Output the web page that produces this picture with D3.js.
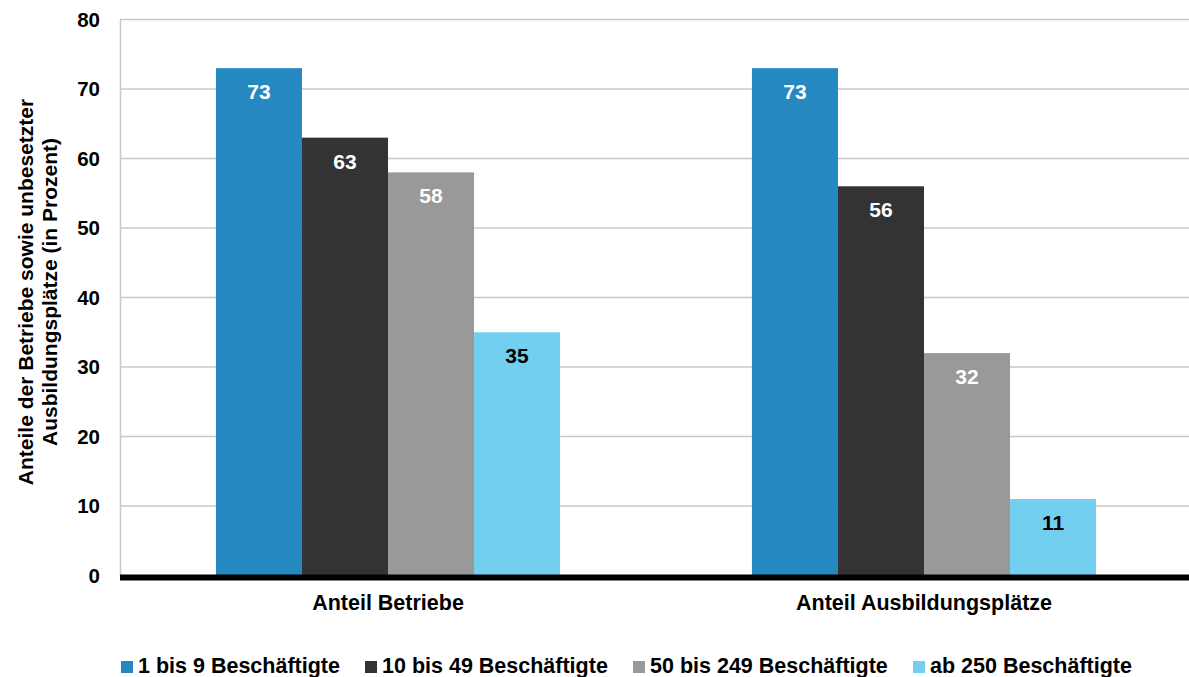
<!DOCTYPE html>
<html>
<head>
<meta charset="utf-8">
<script src="https://cdn.jsdelivr.net/npm/d3@7"></script>
<style>
  body { margin: 0; background: #fff; }
  svg { display: block; font-family: "Liberation Sans", Arial, sans-serif; font-weight: bold; }
</style>
</head>
<body>
<svg id="chart" width="1189" height="677"></svg>
<script>
// Kategorien und Werte
const categories = ["Anteil Betriebe", "Anteil Ausbildungsplätze"];
const seriesNames = ["1 bis 9 Beschäftigte", "10 bis 49 Beschäftigte", "50 bis 249 Beschäftigte", "ab 250 Beschäftigte"];
const valuesBetriebe = [73, 63, 58, 35];
const valuesAusbildungsplaetze = [73, 56, 32, 11];
const yTicks = [0, 10, 20, 30, 40, 50, 60, 70, 80];
const seriesColors = ["#2688c0", "#333333", "#999999", "#73cff0"];
const labelColors = ["#ffffff", "#ffffff", "#ffffff", "#000000"];

const rows = [valuesBetriebe, valuesAusbildungsplaetze];

const svg = d3.select("#chart");
const plotLeft = 120, plotRight = 1192, plotTop = 19.5, plotBottom = 575.5;

const x0 = d3.scaleBand().domain(categories).range([plotLeft, plotRight])
  .paddingInner(0.358).paddingOuter(0.179);
const x1 = d3.scaleBand().domain(seriesNames).range([0, x0.bandwidth()]);
const y = d3.scaleLinear().domain([0, 80]).range([plotBottom, plotTop]);

// Gitterlinien
svg.append("g").selectAll("line").data(yTicks.filter(t => t > 0)).join("line")
  .attr("x1", plotLeft).attr("x2", 1189)
  .attr("y1", d => y(d)).attr("y2", d => y(d))
  .attr("stroke", "#c8c8c8").attr("stroke-width", 1.5);

// Y-Achse
const yAxis = svg.append("g").attr("transform", `translate(${plotLeft},0)`)
  .call(d3.axisLeft(y).tickValues(yTicks).tickSize(0).tickPadding(20));
yAxis.select(".domain").attr("stroke", "#c8c8c8").attr("stroke-width", 1.5);
yAxis.selectAll("text").attr("font-size", 20.5).attr("font-weight", "bold")
  .attr("fill", "#000").attr("font-family", "Liberation Sans, Arial, sans-serif");

// Balken
const groups = svg.append("g").selectAll("g").data(categories).join("g")
  .attr("transform", d => `translate(${x0(d)},0)`);

groups.selectAll("rect").data((c, i) => rows[i].map((v, j) => ({ v, j })))
  .join("rect")
  .attr("x", d => x1(seriesNames[d.j]))
  .attr("width", x1.bandwidth())
  .attr("y", d => y(d.v))
  .attr("height", d => y(0) - y(d.v))
  .attr("fill", d => seriesColors[d.j]);

groups.selectAll("text").data((c, i) => rows[i].map((v, j) => ({ v, j })))
  .join("text")
  .attr("x", d => x1(seriesNames[d.j]) + x1.bandwidth() / 2)
  .attr("y", d => y(d.v) + 31)
  .attr("text-anchor", "middle")
  .attr("font-size", 21)
  .attr("fill", d => labelColors[d.j])
  .text(d => d.v);

// X-Achse (dicke Nulllinie)
svg.append("line").attr("x1", plotLeft).attr("x2", 1189)
  .attr("y1", y(0) + 2).attr("y2", y(0) + 2)
  .attr("stroke", "#000").attr("stroke-width", 6);

svg.append("g").selectAll("text").data(categories).join("text")
  .attr("x", d => x0(d) + x0.bandwidth() / 2)
  .attr("y", 610)
  .attr("text-anchor", "middle")
  .attr("font-size", 21.5)
  .text(d => d);

// Achsentitel
const title = svg.append("text")
  .attr("transform", "translate(0,292) rotate(-90)")
  .attr("text-anchor", "middle")
  .attr("font-size", 21);
title.append("tspan").attr("x", 0).attr("y", 33).text("Anteile der Betriebe sowie unbesetzter");
title.append("tspan").attr("x", 0).attr("y", 57).text("Ausbildungsplätze (in Prozent)");

// Legende
const legendX = [121, 365, 633, 913];
const legend = svg.append("g").selectAll("g").data(seriesNames).join("g")
  .attr("transform", (d, i) => `translate(${legendX[i]},661)`);
legend.append("rect").attr("width", 12).attr("height", 12)
  .attr("fill", (d, i) => seriesColors[i]);
legend.append("text").attr("x", 17).attr("y", 11.5)
  .attr("font-size", 21.5).text(d => d);
</script>
</body>
</html>
